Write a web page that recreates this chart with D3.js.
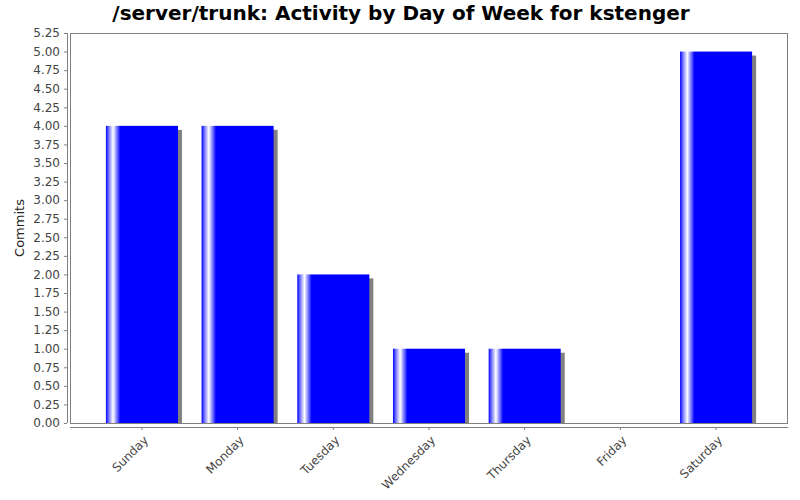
<!DOCTYPE html>
<html>
<head>
<meta charset="utf-8">
<script src="https://cdn.jsdelivr.net/npm/d3@7"></script>
<style>
  body { margin: 0; background: #fff; }
  text { font-family: "DejaVu Sans", sans-serif; }
</style>
</head>
<body>
<svg id="chart" width="800" height="500"></svg>
<script>
var days = ["Sunday", "Monday", "Tuesday", "Wednesday", "Thursday", "Friday", "Saturday"];
var commits = [4, 4, 2, 1, 1, 0, 5];
var yTicks = d3.range(0, 22).map(function(i){ return i * 0.25; });

var plotLeft = 70, plotRight = 788, plotTop = 33, plotBottom = 423;
var w = plotRight - plotLeft;

var svg = d3.select("#chart");

// gradient like the bar painter
var defs = svg.append("defs");
var grad = defs.append("linearGradient")
    .attr("id", "barGrad")
    .attr("x1", "0").attr("x2", "1").attr("y1", "0").attr("y2", "0");
grad.append("stop").attr("offset", "0").attr("stop-color", "#0000ff");
grad.append("stop").attr("offset", "0.045").attr("stop-color", "#8080ff");
grad.append("stop").attr("offset", "0.1").attr("stop-color", "#ffffff");
grad.append("stop").attr("offset", "0.2").attr("stop-color", "#0000ff");
grad.append("stop").attr("offset", "1").attr("stop-color", "#0000ff");

var x = d3.scaleBand()
    .domain(days)
    .range([plotLeft + 0.05 * w, plotRight - 0.05 * w])
    .paddingInner(0.247)
    .paddingOuter(0);

var y = d3.scaleLinear()
    .domain([0, 5.25])
    .range([plotBottom, plotTop]);

// title
svg.append("text")
    .attr("x", 401)
    .attr("y", 20)
    .attr("text-anchor", "middle")
    .style("font-size", "20px")
    .style("font-weight", "bold")
    .text("/server/trunk: Activity by Day of Week for kstenger");

// plot outline
svg.append("rect")
    .attr("x", plotLeft + 0.5)
    .attr("y", plotTop + 0.5)
    .attr("width", w - 1)
    .attr("height", plotBottom - plotTop)
    .attr("fill", "#fff")
    .attr("stroke", "#808080")
    .attr("stroke-width", 1);

// shadows
svg.append("g").selectAll("rect")
  .data(days)
  .join("rect")
    .attr("x", function(d){ return x(d) + 4; })
    .attr("y", function(d, i){ return y(commits[i]) + 4; })
    .attr("width", x.bandwidth())
    .attr("height", function(d, i){ return Math.max(0, plotBottom - y(commits[i]) - 4); })
    .attr("fill", "#808080")
    .style("display", function(d, i){ return commits[i] > 0 ? null : "none"; });

// bars
svg.append("g").selectAll("rect")
  .data(days)
  .join("rect")
    .attr("x", function(d){ return x(d); })
    .attr("y", function(d, i){ return y(commits[i]); })
    .attr("width", x.bandwidth())
    .attr("height", function(d, i){ return plotBottom - y(commits[i]); })
    .attr("fill", "url(#barGrad)");

// y axis
var yAxis = d3.axisLeft(y)
    .tickValues(yTicks)
    .tickFormat(d3.format(".2f"))
    .tickSize(3)
    .tickPadding(4);
var yg = svg.append("g")
    .attr("transform", "translate(" + (plotLeft - 3) + ",0)")
    .call(yAxis);
yg.select(".domain").attr("stroke", "#808080").attr("d", "M0.5," + plotTop + "V" + plotBottom);
yg.selectAll(".tick line").attr("stroke", "#808080");
yg.selectAll(".tick text")
    .style("font-size", "12px")
    .attr("fill", "#444");

// x axis
var xAxis = d3.axisBottom(x).tickSize(3).tickSizeOuter(0);
var xg = svg.append("g")
    .attr("transform", "translate(0," + (plotBottom + 4) + ")")
    .call(xAxis);
xg.select(".domain").attr("stroke", "#808080").attr("d", "M" + plotLeft + ",0.5H" + plotRight);
xg.selectAll(".tick line").attr("stroke", "#808080");
xg.selectAll(".tick text")
    .style("font-size", "12px")
    .attr("fill", "#444")
    .attr("text-anchor", "end")
    .attr("dy", null)
    .attr("x", 0)
    .attr("y", 0)
    .attr("transform", "translate(7,14) rotate(-45)");

// y axis title
svg.append("text")
    .attr("transform", "translate(24," + ((plotTop + plotBottom) / 2) + ") rotate(-90)")
    .attr("text-anchor", "middle")
    .style("font-size", "13px")
    .attr("fill", "#222")
    .text("Commits");
</script>
</body>
</html>
